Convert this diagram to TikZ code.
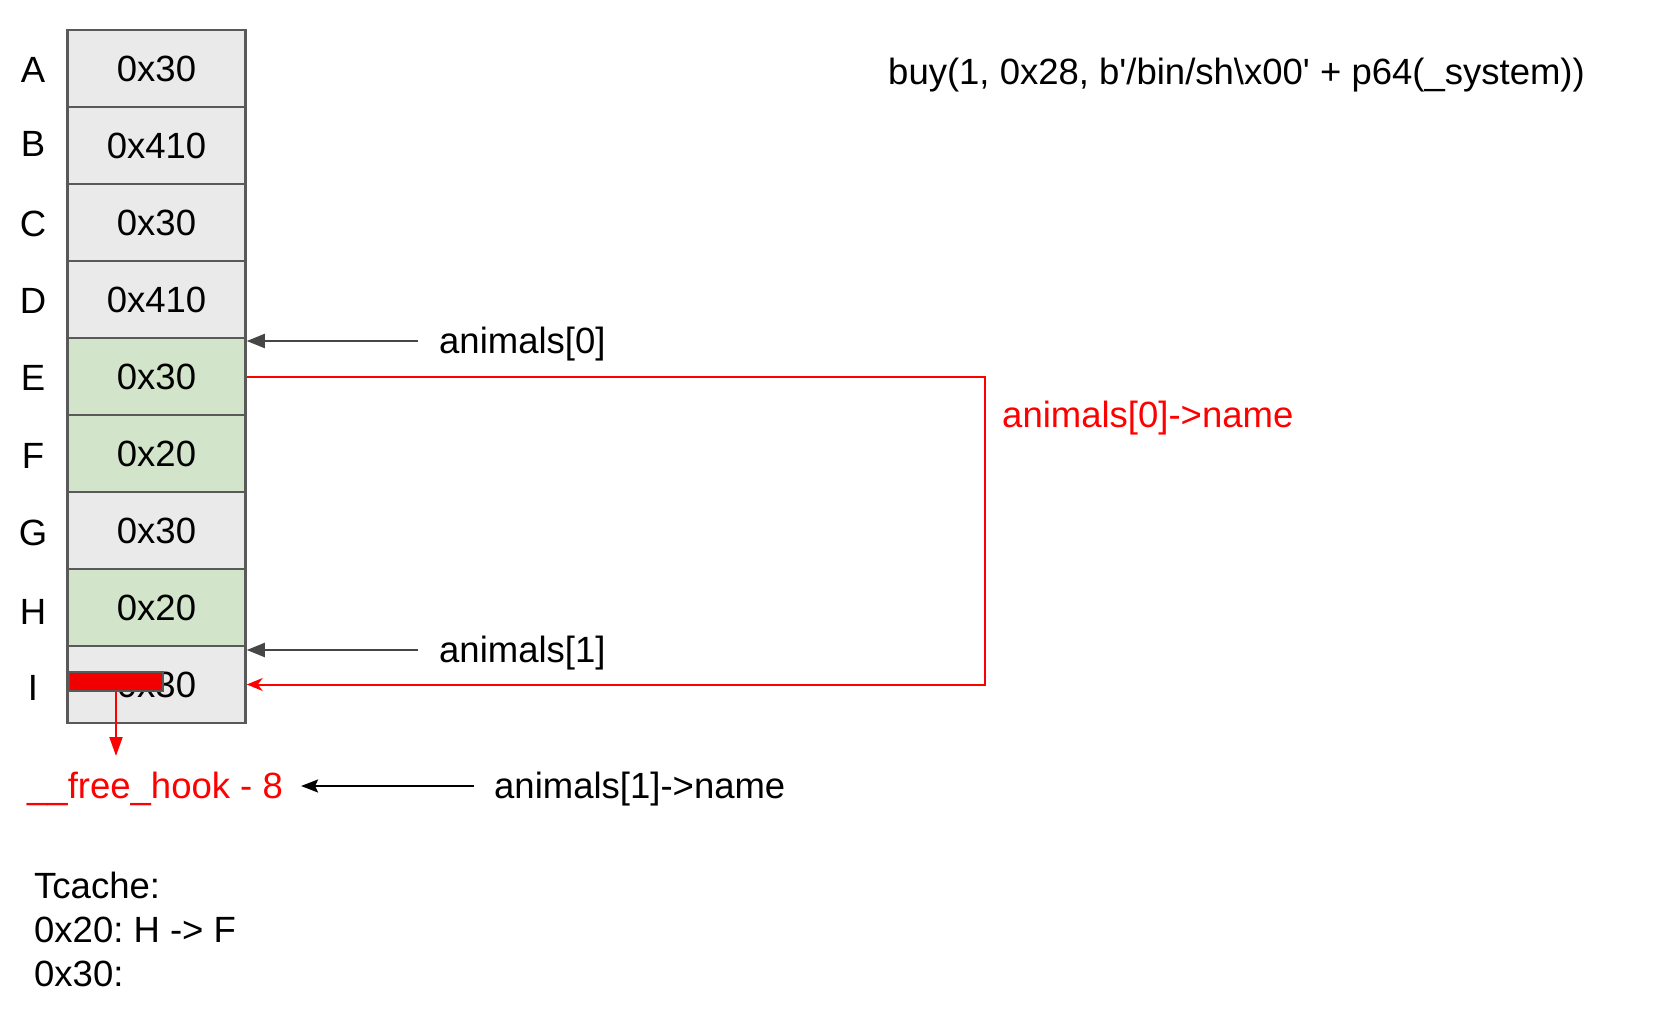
\documentclass[tikz,border=0pt]{standalone}
\usepackage{fontspec}
\setmainfont{Liberation Sans}
\usetikzlibrary{arrows.meta}
\frenchspacing
\definecolor{heapcolor0000}{RGB}{89,89,89}
\definecolor{heapcolor0001}{RGB}{234,234,234}
\definecolor{heapcolor0002}{RGB}{210,228,201}
\definecolor{heapcolor0003}{RGB}{255,0,0}
\definecolor{heapcolor0004}{RGB}{70,70,70}
\definecolor{heapcolor0005}{RGB}{240,0,0}

\begin{document}
\begin{tikzpicture}[yscale=-1
,hstyle0/.style={draw=heapcolor0000,fill=heapcolor0001,line width=2.5pt,minimum width=178pt,minimum height=77pt,inner sep=0pt,font=\fontsize{36.5pt}{44pt}\selectfont}
,hstyle1/.style={hstyle0,fill=heapcolor0002}
,hstyle2/.style={inner sep=0pt,color=black,font=\fontsize{36.5pt}{44pt}\selectfont}
,hstyle3/.style={hstyle2,color=heapcolor0003}
,hstyle4/.style={color=heapcolor0004,line width=2pt,-{Triangle[length=18pt,width=14pt]}}
,hstyle5/.style={color=heapcolor0003,line width=2pt,-{Stealth[length=16pt,width=13pt,inset=5pt]}}
,hstyle6/.style={color=heapcolor0003,line width=2pt,-{Triangle[length=19pt,width=13pt]}}
,hstyle7/.style={color=black,line width=2pt,-{Stealth[length=17pt,width=13pt,inset=3pt]}}
,hstyle8/.style={draw=heapcolor0000,fill=heapcolor0005,line width=2pt,minimum width=94pt,minimum height=19pt,inner sep=0pt}
]
\useasboundingbox (0pt,0pt) rectangle (1658pt,1030pt);
\node[hstyle0] (cella) at (156.5pt,68.5pt) {0x30};
\node[hstyle0] (cellb) at (156.5pt,145.5pt) {0x410};
\node[hstyle0] (cellc) at (156.5pt,222.5pt) {0x30};
\node[hstyle0] (celld) at (156.5pt,299.5pt) {0x410};
\node[hstyle1] (celle) at (156.5pt,376.5pt) {0x30};
\node[hstyle1] (cellf) at (156.5pt,453.5pt) {0x20};
\node[hstyle0] (cellg) at (156.5pt,530.5pt) {0x30};
\node[hstyle1] (cellh) at (156.5pt,607.5pt) {0x20};
\node[hstyle0] (celli) at (156.5pt,684.5pt) {0x30};
\node[hstyle8] (bar) at (116pt,681.5pt) {};
\node[hstyle2] (la) at (33pt,69.5pt) {A};
\node[hstyle2] (lb) at (33pt,143.5pt) {B};
\node[hstyle2] (lc) at (33pt,224pt) {C};
\node[hstyle2] (ld) at (33pt,300.5pt) {D};
\node[hstyle2] (le) at (33pt,378pt) {E};
\node[hstyle2] (lf) at (33pt,455.5pt) {F};
\node[hstyle2] (lg) at (33pt,532.5pt) {G};
\node[hstyle2] (lh) at (33pt,612pt) {H};
\node[hstyle2] (li) at (33pt,688pt) {I};
\node[hstyle2,anchor=base west] (buy) at (888pt,85pt) {buy(1, 0x28, b\textquotesingle/bin/sh\textbackslash x00\textquotesingle{} + p64(\_system))};
\node[hstyle2,anchor=base west] (an0) at (439pt,353pt) {animals[0]};
\coordinate (an0a) at (418pt,341pt);
\draw[hstyle4] (an0a) -- (an0a -| celle.east);
\draw[hstyle5] (celle.east) -- ++(738pt,0pt) |- (celli.east);
\node[hstyle3,anchor=base west] (an0n) at (1002pt,427pt) {animals[0]->name};
\node[hstyle2,anchor=base west] (an1) at (439pt,662pt) {animals[1]};
\coordinate (an1a) at (418pt,650pt);
\draw[hstyle4] (an1a) -- (an1a -| celli.east);
\coordinate (hooktip) at (116pt,756pt);
\draw[hstyle6] (bar.south) -- (hooktip);
\node[hstyle3,anchor=base west] (hook) at (27pt,798pt) {\_\_free\_hook - 8};
\node[hstyle2,anchor=base west] (an1n) at (494pt,798pt) {animals[1]->name};
\coordinate (an1na) at (474pt,786pt);
\draw[hstyle7] (an1na) -- ([xshift=18pt]hook.east |- an1na);
\node[hstyle2,anchor=base west] (tc0) at (34pt,898pt) {Tcache:};
\node[hstyle2,anchor=base west] (tc1) at (34pt,942pt) {0x20: H -> F};
\node[hstyle2,anchor=base west] (tc2) at (34pt,986pt) {0x30:};
\end{tikzpicture}
\end{document}
